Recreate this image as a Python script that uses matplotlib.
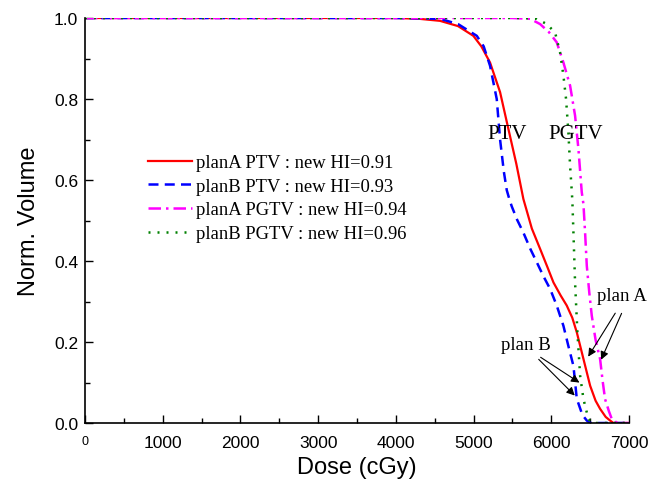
import numpy as np
import matplotlib
matplotlib.use("Agg")
import matplotlib.pyplot as plt

# DVH data
dose_a_ptv = [0, 1000, 2000, 3000, 4000, 4300, 4568, 4800, 4997, 5100, 5212, 5341, 5448, 5550, 5641,
              5750, 5856, 5950, 6028, 6120, 6199, 6270, 6328, 6414, 6500, 6570, 6628, 6700, 6757, 6800, 7000]
vol_a_ptv = [1, 1, 1, 1, 1.0, 0.998, 0.993, 0.98, 0.956, 0.93, 0.89, 0.817, 0.726, 0.64, 0.553,
             0.48, 0.43, 0.385, 0.347, 0.315, 0.29, 0.26, 0.224, 0.158, 0.092, 0.055, 0.035, 0.015, 0.006, 0.0, 0.0]

dose_b_ptv = [0, 4000, 4300, 4568, 4800, 5041, 5130, 5212, 5298, 5341, 5390, 5427, 5460, 5491, 5560, 5641,
              5730, 5813, 5900, 5985, 6070, 6156, 6220, 6285, 6328, 6400, 6457, 6500, 7000]
vol_b_ptv = [1, 1, 0.999, 0.998, 0.985, 0.956, 0.93, 0.882, 0.8, 0.70, 0.62, 0.575, 0.553, 0.535, 0.502, 0.47,
             0.43, 0.397, 0.362, 0.331, 0.29, 0.24, 0.19, 0.141, 0.06, 0.02, 0.006, 0.0, 0.0]

dose_a_pgtv = [0, 5500, 5727, 5856, 5970, 6070, 6156, 6242, 6306, 6349, 6392, 6414, 6435, 6457,
               6490, 6521, 6570, 6628, 6660, 6692, 6740, 6778, 6850, 7000]
vol_a_pgtv = [1, 1, 0.998, 0.985, 0.965, 0.94, 0.89, 0.833, 0.759, 0.677, 0.57, 0.54, 0.47, 0.388,
              0.32, 0.265, 0.205, 0.158, 0.105, 0.059, 0.03, 0.01, 0.0, 0.0]

dose_b_pgtv = [0, 5600, 5813, 5942, 6049, 6113, 6156, 6190, 6220, 6242, 6263, 6271, 6285, 6306,
               6336, 6371, 6414, 6478, 6520, 7000]
vol_b_pgtv = [1, 1, 0.998, 0.985, 0.964, 0.915, 0.858, 0.8, 0.718, 0.635, 0.574, 0.549, 0.47, 0.347,
              0.224, 0.117, 0.059, 0.01, 0.0, 0.0]

labels = ["planA PTV : new HI=0.91", "planB PTV : new HI=0.93",
          "planA PGTV : new HI=0.94", "planB PGTV : new HI=0.96"]

plt.rcParams['font.family'] = ['Liberation Sans', 'DejaVu Sans']
serif = ['Liberation Serif', 'DejaVu Serif']

fig = plt.figure(figsize=(6.65, 4.89), dpi=100)
ax = fig.add_axes([85/665, 1-424/489, 544/665, 405/489])

ax.plot(dose_a_ptv, vol_a_ptv, color='red', lw=1.6, label=labels[0])
ax.plot(dose_b_ptv, vol_b_ptv, color='blue', lw=1.8, dashes=(4, 2.5), label=labels[1])
ax.plot(dose_a_pgtv, vol_a_pgtv, color='magenta', lw=1.8, dashes=(5, 2, 1, 2), label=labels[2])
ax.plot(dose_b_pgtv, vol_b_pgtv, color='green', lw=1.8, dashes=(0.8, 2.8), label=labels[3])

ax.set_xlim(0, 7000)
ax.set_ylim(0, 1.0)
ax.set_xticks(np.arange(0, 7001, 1000))
ax.set_xticks(np.arange(0, 7001, 500), minor=True)
ax.set_yticks(np.arange(0, 1.01, 0.2))
ax.set_yticks(np.arange(0, 1.01, 0.1), minor=True)
ax.set_yticklabels(["0.0", "0.2", "0.4", "0.6", "0.8", "1.0"])
ax.tick_params(which='both', direction='in', labelsize=12.5, width=1)
ax.tick_params(which='major', length=6)
ax.tick_params(which='minor', length=3.5)
ax.tick_params(axis='x', pad=9)
ax.tick_params(axis='y', pad=5)
ax.xaxis.get_major_ticks()[0].label1.set_fontsize(9)
for s in ['top', 'right']:
    ax.spines[s].set_visible(False)
for s in ['left', 'bottom']:
    ax.spines[s].set_linewidth(1.2)

ax.set_xlabel("Dose (cGy)", fontsize=17, labelpad=4)
ax.set_ylabel("Norm. Volume", fontsize=17, labelpad=10)

ax.text(5430, 0.714, "PTV", family=serif, fontsize=15, ha='center', va='center')
ax.text(6318, 0.714, "PGTV", family=serif, fontsize=15, ha='center', va='center')

arrow = dict(arrowstyle='-|>', color='black', lw=0.8, mutation_scale=12)
ax.text(6910, 0.314, "plan A", family=serif, fontsize=13.5, ha='center', va='center')
ax.annotate("", xy=(6456, 0.158), xytext=(6842, 0.277), arrowprops=arrow)
ax.annotate("", xy=(6627, 0.150), xytext=(6919, 0.277), arrowprops=arrow)
ax.text(5675, 0.193, "plan B", family=serif, fontsize=13.5, ha='center', va='center')
ax.annotate("", xy=(6392, 0.096), xytext=(5833, 0.166), arrowprops=arrow)
ax.annotate("", xy=(6327, 0.063), xytext=(5813, 0.162), arrowprops=arrow)

ax.legend(loc='upper left', bbox_to_anchor=((148-85)/544, (424-155)/405), frameon=False,
          prop={'family': serif, 'size': 13.4}, borderpad=0, borderaxespad=0,
          handlelength=2.35, handletextpad=0.25, labelspacing=0.36)

fig.savefig("out.png", dpi=100)
